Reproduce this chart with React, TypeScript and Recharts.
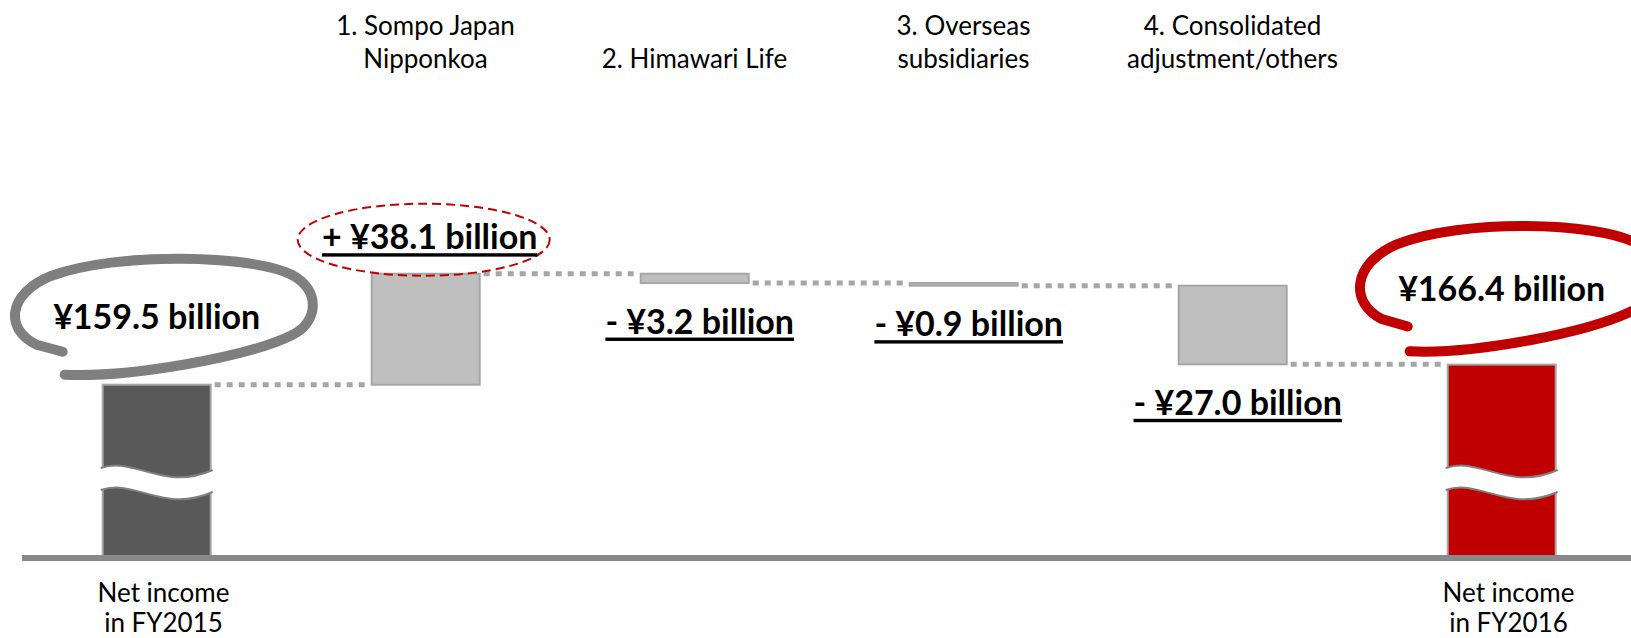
import React from 'react';
import { BarChart, Bar, XAxis, YAxis } from 'recharts';

// category captions, one entry per line
const categoryLines: string[][] = [
  ['Net income', 'in FY2015'],
  ['1. Sompo Japan', 'Nipponkoa'],
  ['2. Himawari Life'],
  ['3. Overseas', 'subsidiaries'],
  ['4. Consolidated', 'adjustment/others'],
  ['Net income', 'in FY2016'],
];

// ¥ billion
const startValue = 159.5;
const changes = [38.1, -3.2, -0.9, -27.0];
const endValue = 166.4;

// the y axis is broken: totals stand on this floor instead of zero
const AXIS_FLOOR = 100;
const AXIS_TOP = 260;

const FONT = "Lato, 'Open Sans', sans-serif";
const GREY_LINE = '#a6a6a6';

type Kind = 'start' | 'up' | 'down' | 'end';
interface Row {
  name: string;
  range: [number, number];
  kind: Kind;
  value: number;
}

const rows: Row[] = (() => {
  const out: Row[] = [];
  let level = startValue;
  out.push({ name: categoryLines[0].join('\n'), range: [AXIS_FLOOR, startValue], kind: 'start', value: startValue });
  changes.forEach((c, i) => {
    const next = level + c;
    out.push({
      name: categoryLines[i + 1].join('\n'),
      range: [Math.min(level, next), Math.max(level, next)],
      kind: c >= 0 ? 'up' : 'down',
      value: c,
    });
    level = next;
  });
  out.push({ name: categoryLines[categoryLines.length - 1].join('\n'), range: [AXIS_FLOOR, endValue], kind: 'end', value: endValue });
  return out;
})();

const biggestGain = Math.max(...changes);

const fmtLabel = (r: Row) => {
  if (r.kind === 'start' || r.kind === 'end') return `¥${r.value.toFixed(1)} billion`;
  return `${r.value >= 0 ? '+' : '-'} ¥${Math.abs(r.value).toFixed(1)} billion`;
};

// hand-drawn loop around the total labels
const loopPath = (cx: number, cy: number, sy = 1) => {
  const p = (dx: number, dy: number) => `${cx + dx},${cy + dy * sy}`;
  return [
    `M ${p(-92, 59)}`,
    `C ${p(-30, 62)} ${p(90, 42)} ${p(136, 19)}`,
    `C ${p(162, 6)} ${p(164, -26)} ${p(135, -41)}`,
    `C ${p(95, -61)} ${p(-40, -64)} ${p(-105, -40)}`,
    `C ${p(-150, -22)} ${p(-152, 14)} ${p(-120, 29)}`,
    `L ${p(-94, 36)}`,
  ].join(' ');
};

const WaterfallShape = (props: any) => {
  const { x, width, payload, index } = props;
  const top = Math.min(props.y, props.y + props.height);
  const h = Math.abs(props.height);
  const row: Row = payload;
  const isTotal = row.kind === 'start' || row.kind === 'end';
  const fill = row.kind === 'start' ? '#595959' : row.kind === 'end' ? '#c00000' : '#bfbfbf';
  const bottom = top + h;
  const cx = x + width / 2;

  // connector toward the next bar at the level this bar ends on
  const endY = row.kind === 'down' ? bottom : top;
  const gap = width * 1.5;
  const showConnector = index < rows.length - 1;

  // wavy break across the total bars
  let wave: React.ReactNode = null;
  if (isTotal) {
    const y0 = bottom - 90;
    const edge = (yy: number) =>
      `M ${x - 2},${yy} C ${x + width * 0.3},${yy - 12} ${x + width * 0.55},${yy + 24} ${x + width + 2},${yy + 2}`;
    const band =
      `M ${x - 2},${y0} C ${x + width * 0.3},${y0 - 12} ${x + width * 0.55},${y0 + 24} ${x + width + 2},${y0 + 2}` +
      ` L ${x + width + 2},${y0 + 24} C ${x + width * 0.55},${y0 + 46} ${x + width * 0.3},${y0 + 10} ${x - 2},${y0 + 22} Z`;
    wave = (
      <g>
        <path d={band} fill="#ffffff" stroke="none" />
        <path d={edge(y0)} fill="none" stroke="#808080" strokeWidth={2} />
        <path d={edge(y0 + 22)} fill="none" stroke="#808080" strokeWidth={2} />
      </g>
    );
  }

  const text = fmtLabel(row);
  let label: React.ReactNode;
  if (isTotal) {
    const lx = cx;
    const ly = top - (row.kind === 'start' ? 69 : 77);
    label = (
      <g>
        <path
          d={loopPath(lx, ly, row.kind === 'start' ? 1 : 1.08)}
          fill="none"
          stroke={row.kind === 'start' ? '#7f7f7f' : '#c00000'}
          strokeWidth={10}
          strokeLinecap="round"
          strokeLinejoin="round"
        />
        <text x={lx} y={ly} textAnchor="middle" dominantBaseline="central" fontFamily={FONT} fontWeight={700} fontSize={34} fill="#000">
          {text}
        </text>
      </g>
    );
  } else {
    const lx = row.kind === 'up' ? cx + 4 : cx + 5;
    const ly = row.kind === 'up' ? top - 38 : bottom + 37;
    label = (
      <g>
        {row.value === biggestGain && (
          <ellipse cx={lx - 6} cy={ly + 4} rx={126} ry={36} fill="none" stroke="#c00000" strokeWidth={2} strokeDasharray="9 5" />
        )}
        <text
          x={lx}
          y={ly}
          textAnchor="middle"
          dominantBaseline="central"
          fontFamily={FONT}
          fontWeight={700}
          fontSize={34}
          fill="#000"
          textDecoration="underline"
        >
          {text}
        </text>
      </g>
    );
  }

  return (
    <g>
      {showConnector && (
        <line
          x1={x + width + 4}
          x2={x + width + gap - 6}
          y1={endY}
          y2={endY}
          stroke={GREY_LINE}
          strokeWidth={5}
          strokeDasharray="6 6"
        />
      )}
      <rect x={x} y={top} width={width} height={Math.max(h, 1)} fill={fill} stroke={GREY_LINE} strokeWidth={2} />
      {wave}
      {label}
    </g>
  );
};

const CategoryTick = (props: any) => {
  const { x, payload, index } = props;
  const lines: string[] = String(payload.value).split('\n');
  const atBottom = index === 0 || index === rows.length - 1;
  const ys = atBottom ? [592, 622] : lines.length === 2 ? [25, 58] : [58];
  const tx = atBottom ? x + 7 : x;
  return (
    <g>
      {lines.map((l, i) => (
        <text key={i} x={tx} y={ys[i]} textAnchor="middle" dominantBaseline="central" fontFamily={FONT} fontSize={26} fill="#000">
          {l}
        </text>
      ))}
    </g>
  );
};

export default function App() {
  return (
    <div style={{ position: 'absolute', left: 0, top: 0, width: 1631, height: 638, overflow: 'hidden', background: '#fff' }}>
      <BarChart
        width={1637}
        height={638}
        data={rows}
        margin={{ top: 92, right: 1, left: 22, bottom: 0 }}
        barCategoryGap="30%"
      >
        <YAxis hide domain={[AXIS_FLOOR, AXIS_TOP]} />
        <XAxis
          dataKey="name"
          height={80}
          interval={0}
          tickLine={false}
          axisLine={{ stroke: '#898989', strokeWidth: 6 }}
          tick={<CategoryTick />}
        />
        <Bar dataKey="range" shape={WaterfallShape} isAnimationActive={false} />
      </BarChart>
    </div>
  );
}
